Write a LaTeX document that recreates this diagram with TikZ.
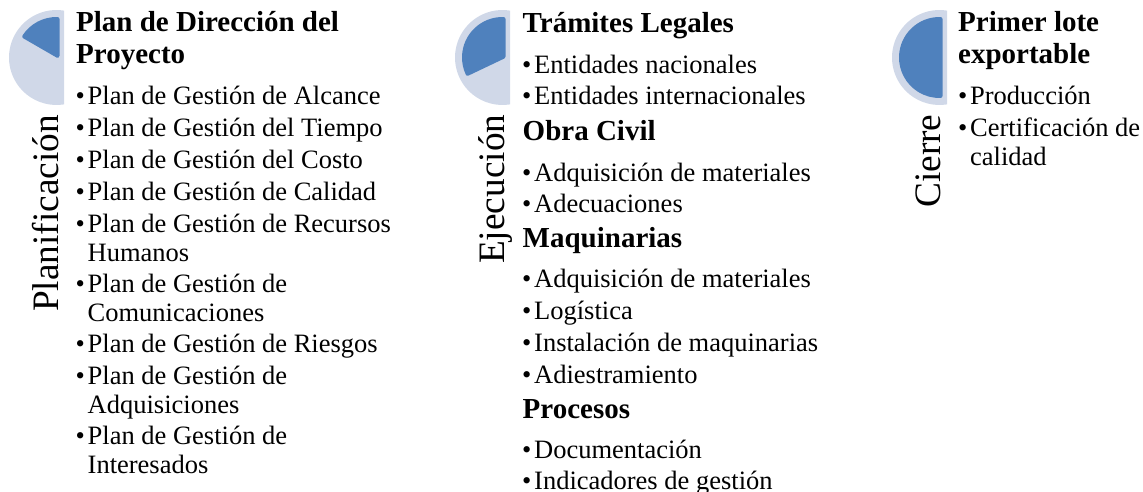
\documentclass[tikz,border=0pt]{standalone}
\usepackage{fontspec}
\setmainfont[Ligatures=NoCommon]{Liberation Serif}
\usepackage{xcolor}
\definecolor{halo}{HTML}{D0D8E8}
\definecolor{wedge}{HTML}{4F81BD}
\newcommand{\itm}[1]{\makebox[12pt][l]{•}\begin{tabular}[t]{@{}l@{}}#1\end{tabular}}
\tikzset{
  x=1pt,y=1pt,
  itemtext/.style={anchor=base west,inner sep=0pt,font=\fontsize{26.5pt}{29pt}\selectfont},
  headtext/.style={anchor=base west,inner sep=0pt,align=left,font=\fontsize{29pt}{32pt}\selectfont\bfseries},
  phase/.style={anchor=base west,inner sep=0pt,rotate=90,font=\fontsize{37.3pt}{40pt}\selectfont},
  halofill/.style={fill=halo},
  wedgefill/.style={fill=wedge,draw=wedge,line width=4pt,line join=round}
}
\begin{document}
\begin{tikzpicture}
\useasboundingbox (0,0) rectangle (1143,-492);
% pies
\begin{scope}[shift={(56.5,-57.5)}]
\fill[halofill] (80.9:47.5) arc[start angle=80.9,end angle=279.1,radius=47.5] -- cycle;
\filldraw[wedgefill] (88.5:38.5) arc[start angle=88.5,end angle=147,radius=38.5] -- (1,1.73) -- cycle;
\end{scope}
\begin{scope}[shift={(502.5,-57.5)}]
\fill[halofill] (80.9:47.5) arc[start angle=80.9,end angle=279.1,radius=47.5] -- cycle;
\filldraw[wedgefill] (88.5:38.5) arc[start angle=88.5,end angle=205,radius=38.5] -- (1,0.8) -- cycle;
\end{scope}
\begin{scope}[shift={(939.5,-57.5)}]
\fill[halofill] (80.9:47.5) arc[start angle=80.9,end angle=279.1,radius=47.5] -- cycle;
\filldraw[wedgefill] (88.5:38.5) arc[start angle=88.5,end angle=271.5,radius=38.5] -- cycle;
\end{scope}
% phases
\node[phase] (fase1) at (58,-312) {Planificación};
\node[phase] (fase2) at (504.5,-264) {Ejecución};
\node[phase] (fase3) at (940.5,-208) {Cierre};
% column 1
\node[headtext] (h1) at (76,-64) {Plan de Dirección del\\Proyecto};
\node[itemtext] (a1) at (75.5,-104.5) {\itm{Plan de Gestión de Alcance}};
\node[itemtext] (a2) at (75.5,-136.5) {\itm{Plan de Gestión del Tiempo}};
\node[itemtext] (a3) at (75.5,-168.5) {\itm{Plan de Gestión del Costo}};
\node[itemtext] (a4) at (75.5,-200.5) {\itm{Plan de Gestión de Calidad}};
\node[itemtext] (a5) at (75.5,-232) {\itm{Plan de Gestión de Recursos\\Humanos}};
\node[itemtext] (a6) at (75.5,-292) {\itm{Plan de Gestión de\\Comunicaciones}};
\node[itemtext] (a7) at (75.5,-352.5) {\itm{Plan de Gestión de Riesgos}};
\node[itemtext] (a8) at (75.5,-384) {\itm{Plan de Gestión de\\Adquisiciones}};
\node[itemtext] (a9) at (75.5,-444) {\itm{Plan de Gestión de\\Interesados}};
% column 2
\node[headtext] (h2) at (522.5,-33) {Trámites Legales};
\node[itemtext] (b1) at (522,-73.5) {\itm{Entidades nacionales}};
\node[itemtext] (b2) at (522,-105) {\itm{Entidades internacionales}};
\node[headtext] (h3) at (522.5,-141) {Obra Civil};
\node[itemtext] (b3) at (522,-181) {\itm{Adquisición de materiales}};
\node[itemtext] (b4) at (522,-212.5) {\itm{Adecuaciones}};
\node[headtext] (h4) at (522.5,-247) {Maquinarias};
\node[itemtext] (b5) at (522,-287) {\itm{Adquisición de materiales}};
\node[itemtext] (b6) at (522,-319) {\itm{Logística}};
\node[itemtext] (b7) at (522,-351) {\itm{Instalación de maquinarias}};
\node[itemtext] (b8) at (522,-383.5) {\itm{Adiestramiento}};
\node[headtext] (h5) at (522.5,-418) {Procesos};
\node[itemtext] (b9) at (522,-458) {\itm{Documentación}};
\node[itemtext] (b10) at (522,-489.5) {\itm{Indicadores de gestión}};
% column 3
\node[headtext] (h6) at (958,-64) {Primer lote\\exportable};
\node[itemtext] (c1) at (958,-105) {\itm{Producción}};
\node[itemtext] (c2) at (958,-136.5) {\itm{Certificación de\\calidad}};
\end{tikzpicture}
\end{document}
